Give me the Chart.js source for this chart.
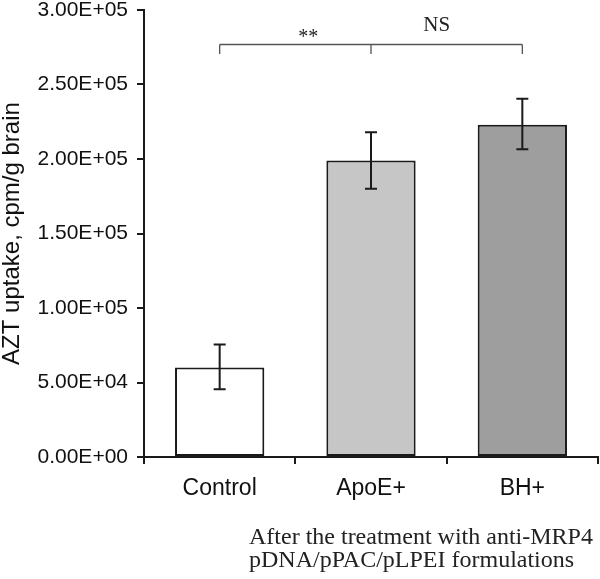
<!DOCTYPE html>
<html>
<head>
<meta charset="utf-8">
<script src="https://cdn.jsdelivr.net/npm/chart.js@4.4.1/dist/chart.umd.min.js"></script>
<style>
  html, body { margin: 0; padding: 0; background: #fff; }
  #wrap { width: 600px; height: 579px; }
</style>
</head>
<body>
<div id="wrap"><canvas id="aztChart" width="600" height="579"></canvas></div>
<script>
// --- DATA ---
const groups = ['Control', 'ApoE+', 'BH+'];
const uptake = [60000, 199000, 223000];
const errLow = [45500, 180000, 206500];
const errHigh = [75500, 218000, 240500];
const barColors = ['#ffffff', '#c6c6c6', '#9e9e9e'];

// significance bracket: group indices and labels
const bracketGroups = [0, 1, 2];
const bracketLabels = ['**', 'NS'];
const bracketLevel = 277000;
const bracketDrop = 270500;

const yTicks = [0, 50000, 100000, 150000, 200000, 250000, 300000];
const captionLines = ['After the treatment with anti-MRP4', 'pDNA/pPAC/pLPEI formulations'];

function sci(v) {
    const exp = v === 0 ? 0 : Math.floor(Math.log10(v));
    const mant = v / Math.pow(10, exp);
    return mant.toFixed(2) + 'E+' + String(exp).padStart(2, '0');
}

// error bars, bracket and caption
const extras = {
    id: 'extras',
    afterDatasetsDraw(chart) {
        const ctx = chart.ctx;
        const x = chart.scales.x, y = chart.scales.y;
        ctx.save();
        ctx.strokeStyle = '#1a1a1a';
        ctx.lineWidth = 2;
        groups.forEach((g, i) => {
            const cx = x.getPixelForValue(i);
            const top = y.getPixelForValue(errHigh[i]);
            const bot = y.getPixelForValue(errLow[i]);
            ctx.beginPath();
            ctx.moveTo(cx, top); ctx.lineTo(cx, bot);
            ctx.moveTo(cx - 6, top); ctx.lineTo(cx + 6, top);
            ctx.moveTo(cx - 6, bot); ctx.lineTo(cx + 6, bot);
            ctx.stroke();
        });

        // bracket
        const yl = Math.round(y.getPixelForValue(bracketLevel)) + 0.5;
        const yd = y.getPixelForValue(bracketDrop);
        const xs = bracketGroups.map(i => x.getPixelForValue(i));
        ctx.strokeStyle = '#555';
        ctx.lineWidth = 1.3;
        ctx.beginPath();
        ctx.moveTo(xs[0], yl); ctx.lineTo(xs[xs.length - 1], yl);
        xs.forEach(px => { ctx.moveTo(px, yl); ctx.lineTo(px, yd); });
        ctx.stroke();

        ctx.fillStyle = '#222';
        ctx.textAlign = 'center';
        ctx.textBaseline = 'alphabetic';
        ctx.font = '20px "Liberation Serif", "Times New Roman", serif';
        ctx.fillText(bracketLabels[0], (xs[0] + xs[1]) / 2 + 13, yl - 2);
        ctx.font = '21px "Liberation Serif", "Times New Roman", serif';
        ctx.fillText(bracketLabels[1], (xs[1] + xs[2]) / 2 - 10, yl - 14);

        // caption under the axis
        ctx.textAlign = 'left';
        ctx.font = '24px "Liberation Serif", "Times New Roman", serif';
        ctx.fillText(captionLines[0], 249, 544);
        ctx.fillText(captionLines[1], 249, 567);
        ctx.restore();
    }
};

new Chart(document.getElementById('aztChart'), {
    type: 'bar',
    data: {
        labels: groups,
        datasets: [{
            data: uptake,
            backgroundColor: barColors,
            borderColor: '#1a1a1a',
            borderWidth: 2,
            borderSkipped: false,
            categoryPercentage: 1,
            barPercentage: 0.59
        }]
    },
    options: {
        responsive: false,
        animation: false,
        devicePixelRatio: 1,
        layout: { padding: { left: 0, right: 2, top: 10, bottom: 0 } },
        plugins: { legend: { display: false }, tooltip: { enabled: false } },
        scales: {
            x: {
                grid: { offset: true, drawOnChartArea: false, drawTicks: true, tickLength: 7, color: '#1a1a1a', lineWidth: 2 },
                border: { display: true, color: '#1a1a1a', width: 2 },
                ticks: { color: '#111', padding: 11, font: { family: '"Liberation Sans", Arial, sans-serif', size: 23 } },
                afterFit: s => { s.height = 122; }
            },
            y: {
                min: 0,
                max: 300000,
                afterBuildTicks: s => { s.ticks = yTicks.map(v => ({ value: v })); },
                grid: { drawOnChartArea: false, drawTicks: true, tickLength: 7, color: '#1a1a1a', lineWidth: 2 },
                border: { display: true, color: '#1a1a1a', width: 2 },
                ticks: {
                    color: '#111',
                    padding: 9,
                    font: { family: '"Liberation Sans", Arial, sans-serif', size: 21 },
                    callback: v => sci(v)
                },
                title: {
                    display: true,
                    text: 'AZT uptake, cpm/g brain',
                    color: '#111',
                    padding: 0,
                    font: { family: '"Liberation Sans", Arial, sans-serif', size: 24, lineHeight: 1 }
                },
                afterFit: s => { s.width = 144; s.paddingTop = 0; s.paddingBottom = 0; }
            }
        }
    },
    plugins: [extras]
});
</script>
</body>
</html>
